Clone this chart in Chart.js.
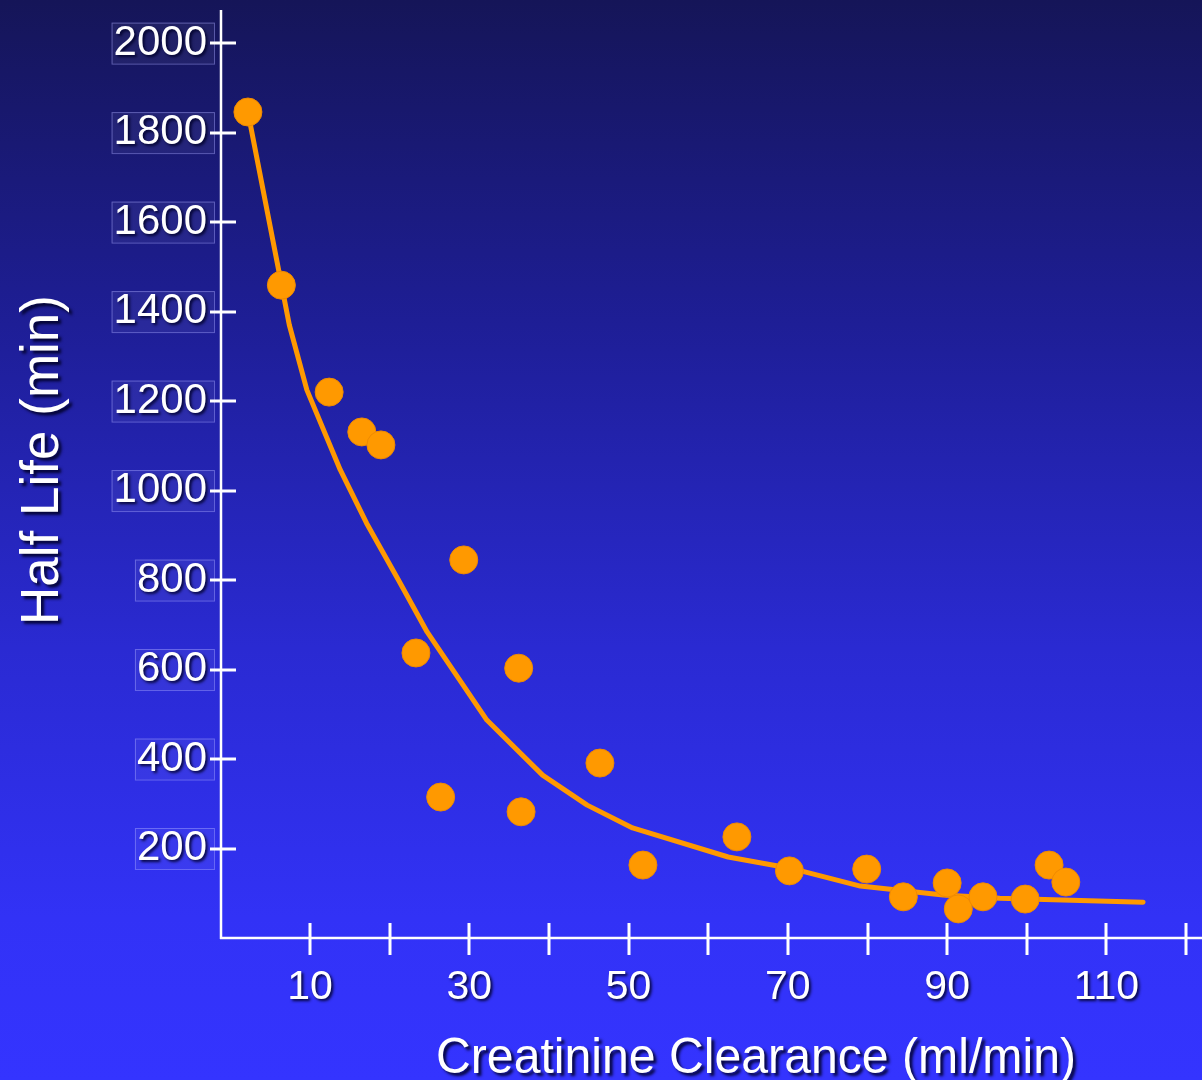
<!DOCTYPE html>
<html>
<head>
<meta charset="utf-8">
<script src="https://cdn.jsdelivr.net/npm/chart.js@4.4.1/dist/chart.umd.min.js"></script>
<style>
  html, body { margin: 0; padding: 0; }
  body {
    width: 1202px; height: 1080px; overflow: hidden;
    background: linear-gradient(to bottom, #151558 0%, #1e1e96 30%, #2a2ad2 60%, #3232f6 85%, #3434ff 100%);
  }
  canvas { display: block; }
</style>
</head>
<body>
<canvas id="chart" width="1202" height="1080"></canvas>
<script>
// ── Datos ────────────────────────────────────────────────────
const clearance = [2.2, 6.4, 12.4, 16.5, 18.9, 23.3, 26.4, 29.3, 36.2, 36.5, 46.4,
                   51.8, 63.6, 70.2, 79.9, 84.5, 90.0, 91.4, 94.5, 99.8, 102.8, 104.9];
const halfLife  = [1846, 1459, 1220, 1131, 1102, 637, 315, 845, 603, 282, 391,
                   163, 226, 150, 154, 92, 123, 65, 92, 87, 163, 125];

// curva ajustada
const fitX = [2.2, 7.4, 9.6, 13.8, 17.1, 21.1, 24.7, 32.2, 39.2, 44.8, 50.5, 62.5, 70.3, 79.1, 89.5, 96.6, 114.6];
const fitY = [1846, 1370, 1225, 1046, 927, 800, 684, 487, 364, 297, 246, 181, 156, 116, 96, 89, 80];

const xTicks = [10, 20, 30, 40, 50, 60, 70, 80, 90, 100, 110, 120];
const xLabels = [10, 30, 50, 70, 90, 110];
const yTicks = [200, 400, 600, 800, 1000, 1200, 1400, 1600, 1800, 2000];

const FONT = '"Liberation Sans", Arial, sans-serif';
const ORANGE = '#ff9900';

// ── Plugin: cajas, sombra de texto, ejes y títulos ───────────
const slidePlugin = {
  id: 'slide',
  beforeDraw(chart) {
    const ctx = chart.ctx;
    const ys = chart.scales.y;
    ctx.save();
    ctx.font = '42px ' + FONT;
    yTicks.forEach(v => {
      const py = ys.getPixelForValue(v);
      const w = ctx.measureText(String(v)).width;
      const left = 207 - w - 2;
      ctx.fillStyle = 'rgba(255,255,255,0.05)';
      ctx.fillRect(left, py - 20.5, 214 - left, 41);
      ctx.strokeStyle = 'rgba(170,170,255,0.45)';
      ctx.lineWidth = 1;
      ctx.strokeRect(left + 0.5, py - 20, 214 - left, 41);
    });
    ctx.restore();
    // sombra para las etiquetas que dibuja Chart.js
    ctx.shadowColor = 'rgba(0,0,40,0.9)';
    ctx.shadowOffsetX = 2;
    ctx.shadowOffsetY = 2;
    ctx.shadowBlur = 3;
  },
  beforeDatasetsDraw(chart) {
    const ctx = chart.ctx;
    ctx.shadowColor = 'rgba(0,0,0,0)';
    ctx.shadowOffsetX = 0;
    ctx.shadowOffsetY = 0;
    ctx.shadowBlur = 0;
  },
  afterDraw(chart) {
    const ctx = chart.ctx;
    const { left, right, top, bottom } = chart.chartArea;
    const xs = chart.scales.x, ys = chart.scales.y;
    ctx.save();
    ctx.strokeStyle = '#ffffff';
    ctx.lineWidth = 2.5;
    ctx.beginPath();
    ctx.moveTo(left, top);
    ctx.lineTo(left, bottom + 1);
    ctx.moveTo(left - 1, bottom);
    ctx.lineTo(right, bottom);
    ctx.stroke();

    ctx.lineWidth = 3;
    ctx.beginPath();
    yTicks.forEach(v => {
      const py = Math.round(ys.getPixelForValue(v));
      ctx.moveTo(left - 11, py);
      ctx.lineTo(left + 15, py);
    });
    xTicks.forEach(v => {
      const px = Math.round(xs.getPixelForValue(v));
      ctx.moveTo(px, bottom - 15);
      ctx.lineTo(px, bottom + 17);
    });
    ctx.stroke();

    // títulos
    ctx.shadowColor = 'rgba(0,0,40,0.9)';
    ctx.shadowOffsetX = 3;
    ctx.shadowOffsetY = 3;
    ctx.shadowBlur = 3;
    ctx.fillStyle = '#ffffff';
    ctx.font = '50px ' + FONT;
    ctx.textAlign = 'center';
    ctx.textBaseline = 'alphabetic';
    ctx.fillText('Creatinine Clearance (ml/min)', 756, 1073, 640);

    ctx.translate(58, 460);
    ctx.rotate(-Math.PI / 2);
    ctx.font = '53px ' + FONT;
    ctx.fillText('Half Life (min)', 0, 0);
    ctx.restore();
  }
};

new Chart(document.getElementById('chart'), {
  type: 'scatter',
  data: {
    datasets: [
      {
        label: 'Half Life',
        data: clearance.map((x, i) => ({ x, y: halfLife[i] })),
        backgroundColor: ORANGE,
        borderColor: '#f08a00',
        borderWidth: 1,
        pointRadius: 14,
        pointHoverRadius: 14,
        order: 0
      },
      {
        label: 'Fit',
        type: 'line',
        data: fitX.map((x, i) => ({ x, y: fitY[i] })),
        borderColor: ORANGE,
        borderWidth: 5,
        borderCapStyle: 'round',
        borderJoinStyle: 'round',
        pointRadius: 0,
        fill: false,
        tension: 0,
        order: 1
      }
    ]
  },
  options: {
    responsive: false,
    animation: false,
    events: [],
    layout: { autoPadding: false, padding: { top: 10, left: 0, right: 0, bottom: 0 } },
    plugins: { legend: { display: false }, tooltip: { enabled: false } },
    scales: {
      x: {
        type: 'linear',
        min: -1.18,
        max: 122,
        grid: { display: false, drawTicks: false },
        border: { display: false },
        afterBuildTicks: s => { s.ticks = xTicks.map(v => ({ value: v })); },
        afterFit: s => { s.height = 142; s.paddingLeft = 0; s.paddingRight = 0; },
        ticks: {
          color: '#ffffff',
          font: { family: FONT, size: 41 },
          padding: 25,
          maxRotation: 0,
          autoSkip: false,
          callback: v => xLabels.includes(v) ? String(v) : ''
        }
      },
      y: {
        type: 'linear',
        min: 0,
        max: 2074,
        grid: { display: false, drawTicks: false },
        border: { display: false },
        afterBuildTicks: s => { s.ticks = yTicks.map(v => ({ value: v })); },
        afterFit: s => { s.width = 221; s.paddingTop = 0; s.paddingBottom = 0; },
        ticks: {
          color: '#ffffff',
          font: { family: FONT, size: 42 },
          padding: 14,
          autoSkip: false,
          callback: v => String(v)
        }
      }
    }
  },
  plugins: [slidePlugin]
});
</script>
</body>
</html>
